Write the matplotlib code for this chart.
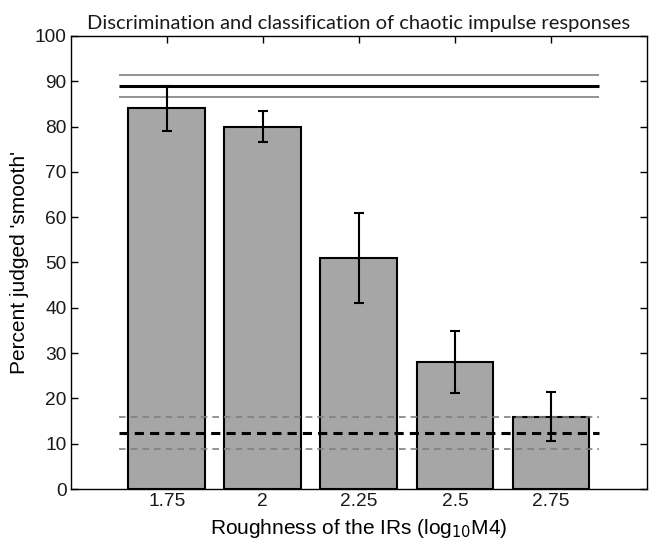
import matplotlib.pyplot as plt
import numpy as np

# data
roughness = ['1.75', '2', '2.25', '2.5', '2.75']
pct_smooth = [84, 80, 51, 28, 16]
err = [5, 3.4, 9.9, 6.9, 5.4]

# discrimination threshold (solid) and chance level (dashed), mean +- spread
disc_mean, disc_spread = 89, 2.4
chance_mean, chance_spread = 12.4, 3.6

plt.rcParams['font.family'] = ['Liberation Sans', 'DejaVu Sans']
plt.rcParams['text.color'] = '#1a1a1a'
plt.rcParams['xtick.labelcolor'] = '#1a1a1a'
plt.rcParams['ytick.labelcolor'] = '#1a1a1a'

fig = plt.figure(figsize=(6.49, 5.44), dpi=100)
ax = fig.add_axes([0.109, 0.101, 0.888, 0.833])

x = np.arange(1, len(roughness) + 1)
ax.bar(x, pct_smooth, width=0.8, color='#a6a6a6', edgecolor='black', linewidth=1.5, zorder=2)

# reference lines
ax.hlines(disc_mean, 0.5, 5.5, color='black', linewidth=2.2, zorder=1)
ax.hlines([disc_mean - disc_spread, disc_mean + disc_spread], 0.5, 5.5, color='#808080', linewidth=1.2, zorder=1)
ax.hlines(chance_mean, 0.5, 5.5, color='black', linewidth=2.2, linestyles=(0, (3, 2)), zorder=3)
ax.hlines([chance_mean - chance_spread, chance_mean + chance_spread], 0.5, 5.5, color='#808080',
          linewidth=1.2, linestyles=(0, (4, 3)), zorder=3)

ax.errorbar(x, pct_smooth, yerr=err, fmt='none', ecolor='black', elinewidth=1.5,
            capsize=3.5, capthick=1.5, zorder=4)

ax.set_xlim(0, 6)
ax.set_ylim(0, 100)
ax.set_xticks(x)
ax.set_xticklabels(roughness)
ax.set_yticks(np.arange(0, 101, 10))
ax.tick_params(direction='in', top=True, right=True, length=5, width=1, labelsize=13.8, pad=3)
for s in ax.spines.values():
    s.set_linewidth(1)

ax.set_xlabel('Roughness of the IRs (log$_{10}$M4)', fontsize=15, labelpad=5)
ax.set_ylabel("Percent judged 'smooth'", fontsize=15, labelpad=4)
ax.set_title('Discrimination and classification of chaotic impulse responses',
             fontsize=14.5, family=['Lato', 'DejaVu Sans'], pad=5)

plt.savefig('out.png', dpi=100)
